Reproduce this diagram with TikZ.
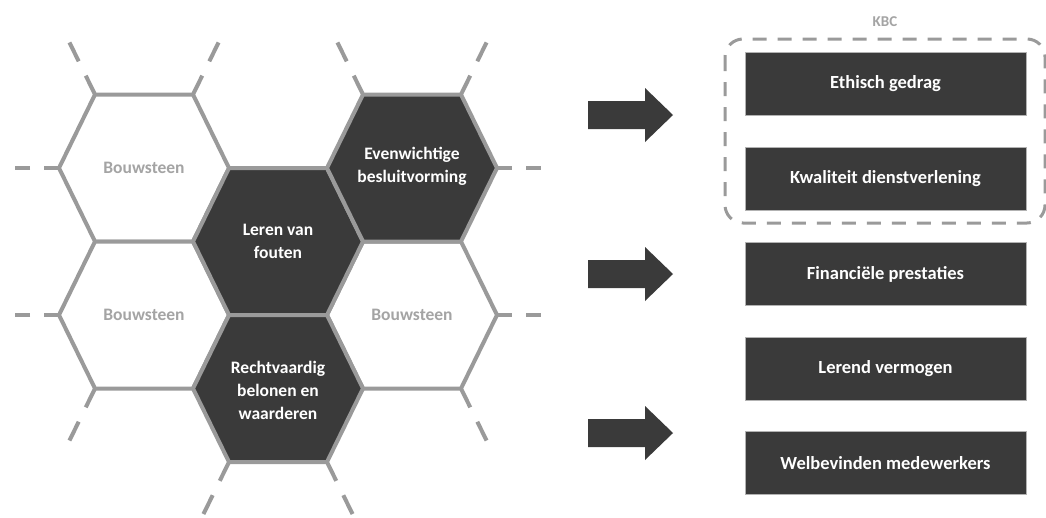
\documentclass[tikz,border=0pt]{standalone}
\usepackage{fontspec}
\setmainfont{Carlito}

\definecolor{cellgrey}{HTML}{9A9A9A}
\definecolor{darkfill}{HTML}{3A3A3A}
\definecolor{softtext}{HTML}{A4A4A4}

\tikzset{
  cell/.style={draw=cellgrey, line width=4pt, line join=round},
  stub/.style={cellgrey, line width=4pt, dash pattern=on 21pt off 16pt},
  flatstub/.style={cellgrey, line width=4pt, dash pattern=on 15pt off 14pt},
  celltext/.style={align=center, font=\bfseries\fontsize{17.5}{23}\selectfont},
  resultbox/.style={rectangle, fill=darkfill, draw=gray!60, line width=0.8pt,
    minimum width=281pt, minimum height=63pt, text=white,
    font=\bfseries\fontsize{18.5}{21}\selectfont},
  groupline/.style={cellgrey, line width=3pt, dash pattern=on 14pt off 11pt, rounded corners=18pt}
}

% flat-top hexagon: centre x, centre y, fill
\newcommand{\hexcell}[3]{%
  \draw[cell, fill=#3] (#1-85,#2) -- (#1-49,#2-73.5) -- (#1+49,#2-73.5)
    -- (#1+85,#2) -- (#1+49,#2+73.5) -- (#1-49,#2+73.5) -- cycle;}

% block arrow pointing right, centre y
\newcommand{\bigarrow}[1]{%
  \fill[darkfill] (588,#1-14) -- (645,#1-14) -- (645,#1-27) -- (673,#1)
    -- (645,#1+27) -- (645,#1+14) -- (588,#1+14) -- cycle;}

\begin{document}
\begin{tikzpicture}[x=1pt, y=-1pt]
 \useasboundingbox[fill=white] (0,0) rectangle (1046,517);

 % open ends of the honeycomb
 \draw[stub] (95,94.5) -- ++(-27,-55);
 \draw[stub] (193,94.5) -- ++(27,-55);
 \draw[flatstub] (59,168) -- ++(-45,0);
 \draw[flatstub] (59,315) -- ++(-45,0);
 \draw[stub] (95,388.5) -- ++(-27,55);
 \draw[stub] (229,462) -- ++(-27,55);
 \draw[stub] (327,462) -- ++(27,55);
 \draw[stub] (461,388.5) -- ++(27,55);
 \draw[flatstub] (497,315) -- ++(45,0);
 \draw[flatstub] (497,168) -- ++(45,0);
 \draw[stub] (363,94.5) -- ++(-27,-55);
 \draw[stub] (461,94.5) -- ++(27,-55);

 % light cells
 \hexcell{144}{168}{white}
 \hexcell{144}{315}{white}
 \hexcell{412}{315}{white}
 % dark cells
 \hexcell{278}{241.5}{darkfill}
 \hexcell{278}{388.5}{darkfill}
 \hexcell{412}{168}{darkfill}

 \node[celltext, text=softtext] (bouwtop) at (144,168) {Bouwsteen};
 \node[celltext, text=softtext] (bouwleft) at (144,315) {Bouwsteen};
 \node[celltext, text=softtext] (bouwright) at (412,315) {Bouwsteen};
 \node[celltext, text=white] (leren) at (278,241.5) {Leren van\\fouten};
 \node[celltext, text=white] (belonen) at (278,390) {Rechtvaardig\\belonen en\\waarderen};
 \node[celltext, text=white] (besluit) at (412,166) {Evenwichtige\\besluitvorming};

 % arrows
 \bigarrow{115}
 \bigarrow{274}
 \bigarrow{433}

 % outcomes
 \draw[groupline] (725,39) rectangle (1045,223);
 \node[font=\bfseries\fontsize{15}{18}\selectfont, text=softtext] (kbc) at (885,22) {KBC};
 \node[resultbox] (ethisch) at (885.5,83.5) {Ethisch gedrag};
 \node[resultbox] (kwaliteit) at (885.5,178.5) {Kwaliteit dienstverlening};
 \node[resultbox] (financieel) at (885.5,274) {Financiële prestaties};
 \node[resultbox] (lerend) at (885.5,368.5) {Lerend vermogen};
 \node[resultbox] (welzijn) at (885.5,463) {Welbevinden medewerkers};
\end{tikzpicture}
\end{document}
